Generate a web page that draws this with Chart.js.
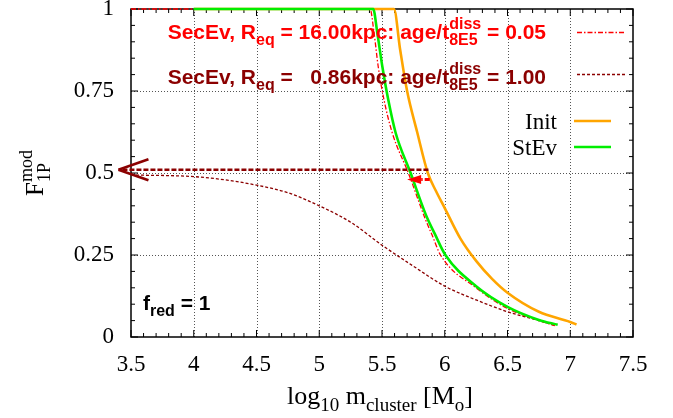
<!DOCTYPE html>
<html>
<head>
<meta charset="utf-8">
<script src="https://cdn.jsdelivr.net/npm/chart.js@4/dist/chart.umd.min.js"></script>
<style>
  body { margin: 0; background: #fff; }
  canvas { display: block; }
</style>
</head>
<body>
<canvas id="chartF1P" width="673" height="418"></canvas>
<script>
// F1P fraction vs log10 cluster mass
const initX = [4.0, 5.595, 5.645, 5.70, 5.78, 5.865, 5.93, 6.0, 6.125, 6.25, 6.375, 6.5, 6.75, 7.0, 7.05];
const initY = [1.0, 1.0, 0.875, 0.75, 0.625, 0.5, 0.445, 0.393, 0.30, 0.232, 0.178, 0.135, 0.077, 0.046, 0.038];

const stevX = [4.0, 5.43, 5.463, 5.503, 5.55, 5.609, 5.728, 5.85, 5.92, 6.005, 6.25, 6.5, 6.75, 6.90];
const stevY = [1.0, 1.0, 0.926, 0.824, 0.723, 0.622, 0.5, 0.372, 0.315, 0.25, 0.155, 0.092, 0.052, 0.037];

const sec16X = [3.5, 5.405, 5.437, 5.47, 5.516, 5.582, 5.71, 5.85, 5.90, 5.966, 6.25, 6.5, 6.75, 6.878];
const sec16Y = [1.0, 1.0, 0.926, 0.824, 0.723, 0.622, 0.5, 0.355, 0.31, 0.25, 0.15, 0.087, 0.05, 0.035];

const sec086X = [3.5, 4.0, 4.25, 4.5, 4.75, 5.0, 5.25, 5.5, 5.75, 6.0, 6.25, 6.5, 6.75, 6.88];
const sec086Y = [0.494, 0.489, 0.479, 0.463, 0.44, 0.40, 0.35, 0.28, 0.216, 0.155, 0.113, 0.077, 0.05, 0.035];

// arrows: [tail, tip]
const arrowDarkX = [5.87, 3.40];
const arrowDarkY = [0.51, 0.51];
const arrowRedX = [5.88, 5.70];
const arrowRedY = [0.48, 0.48];

const serif = '"Liberation Serif", "Times New Roman", serif';
const sans = '"Liberation Sans", Arial, sans-serif';

function pts(xs, ys) {
  return xs.map((x, i) => ({ x: x, y: ys[i] }));
}

// rich text: strings, {sub}, {sup}, {sup, sub}
function segWidth(ctx, s, big, small) {
  if (typeof s === 'string') {
    ctx.font = big;
    return ctx.measureText(s).width;
  }
  ctx.font = small;
  const a = s.sup ? ctx.measureText(s.sup).width : 0;
  const b = s.sub ? ctx.measureText(s.sub).width : 0;
  return Math.max(a, b);
}

function drawRich(ctx, segs, x, y, align, f) {
  let w = 0;
  segs.forEach(s => { w += segWidth(ctx, s, f.big, f.small); });
  let cx = x;
  if (align === 'right') cx = x - w;
  if (align === 'center') cx = x - w / 2;
  ctx.textAlign = 'left';
  ctx.textBaseline = 'alphabetic';
  ctx.fillStyle = f.color;
  segs.forEach(s => {
    const sw = segWidth(ctx, s, f.big, f.small);
    if (typeof s === 'string') {
      ctx.font = f.big;
      ctx.fillText(s, cx, y);
    } else {
      ctx.font = f.small;
      if (s.sup) ctx.fillText(s.sup, cx, y - f.supDy);
      if (s.sub) ctx.fillText(s.sub, cx, y + f.subDy);
    }
    cx += sw;
  });
}

function line(ctx, x0, y0, x1, y1, color, width, dash) {
  ctx.save();
  ctx.strokeStyle = color;
  ctx.lineWidth = width;
  ctx.setLineDash(dash || []);
  ctx.beginPath();
  ctx.moveTo(x0, y0);
  ctx.lineTo(x1, y1);
  ctx.stroke();
  ctx.restore();
}

const framePlugin = {
  id: 'frame',
  beforeDatasetsDraw(chart) {
    const ctx = chart.ctx;
    const a = chart.chartArea;
    const xs = chart.scales.x, ys = chart.scales.y;
    ctx.save();
    // dotted grid
    xs.ticks.forEach(t => {
      if (t.value <= xs.min || t.value >= xs.max) return;
      const px = Math.round(xs.getPixelForValue(t.value)) + 0.5;
      line(ctx, px, a.top, px, a.bottom, '#555', 1, [1, 2]);
    });
    ys.ticks.forEach(t => {
      if (t.value <= ys.min || t.value >= ys.max) return;
      const py = Math.round(ys.getPixelForValue(t.value)) + 0.5;
      line(ctx, a.left, py, a.right, py, '#555', 1, [1, 2]);
    });
    // minor and major tick marks on all four sides
    for (let v = xs.min; v <= xs.max + 1e-9; v += 0.1) {
      const px = xs.getPixelForValue(v);
      const major = Math.abs(v * 2 - Math.round(v * 2)) < 1e-6;
      const len = major ? 7 : 4;
      line(ctx, px, a.bottom, px, a.bottom - len, '#000', 1);
      line(ctx, px, a.top, px, a.top + len, '#000', 1);
    }
    for (let v = ys.min; v <= ys.max + 1e-9; v += 0.05) {
      const py = ys.getPixelForValue(v);
      const major = Math.abs(v * 4 - Math.round(v * 4)) < 1e-6;
      const len = major ? 7 : 4;
      line(ctx, a.left, py, a.left + len, py, '#000', 1);
      line(ctx, a.right, py, a.right - len, py, '#000', 1);
    }
    ctx.strokeStyle = '#000';
    ctx.lineWidth = 1.5;
    ctx.setLineDash([]);
    ctx.strokeRect(a.left, a.top, a.right - a.left, a.bottom - a.top);
    ctx.restore();
  },
  afterDatasetsDraw(chart) {
    const ctx = chart.ctx;
    const a = chart.chartArea;
    const xs = chart.scales.x, ys = chart.scales.y;
    ctx.save();

    // dark red open-headed arrow
    let x0 = xs.getPixelForValue(arrowDarkX[0]), y0 = ys.getPixelForValue(arrowDarkY[0]);
    let x1 = xs.getPixelForValue(arrowDarkX[1]), y1 = ys.getPixelForValue(arrowDarkY[1]);
    line(ctx, x0, y0, x1 + 2, y1, '#8b0000', 2.6, [5, 2]);
    line(ctx, x1, y1, x1 + 30, y1 - 10.5, '#8b0000', 2.6);
    line(ctx, x1, y1, x1 + 30, y1 + 10.5, '#8b0000', 2.6);

    // red filled-head arrow
    x0 = xs.getPixelForValue(arrowRedX[0]); y0 = ys.getPixelForValue(arrowRedY[0]);
    x1 = xs.getPixelForValue(arrowRedX[1]); y1 = ys.getPixelForValue(arrowRedY[1]);
    line(ctx, x0, y0, x1 + 13, y1, '#ff0000', 3, [5, 2, 1.5, 2]);
    ctx.fillStyle = '#ff0000';
    ctx.beginPath();
    ctx.moveTo(x1, y1);
    ctx.lineTo(x1 + 14, y1 - 4.5);
    ctx.lineTo(x1 + 14, y1 + 4.5);
    ctx.closePath();
    ctx.fill();

    // SecEv keys (top)
    const keyFont = { big: 'bold 21px ' + sans, small: 'bold 16px ' + sans, subDy: 6, supDy: 10 };
    const kx = a.left + 415;
    drawRich(ctx, ['SecEv, R', { sub: 'eq' }, ' = 16.00kpc: age/t', { sup: 'diss', sub: '8E5' }, ' = 0.05'],
      kx, a.top + 30, 'right', Object.assign({ color: '#ff0000' }, keyFont));
    line(ctx, a.left + 446, a.top + 23.5, a.left + 494, a.top + 23.5, '#ff0000', 1.3, [5, 2, 1.5, 2]);
    drawRich(ctx, ['SecEv, R', { sub: 'eq' }, ' =   0.86kpc: age/t', { sup: 'diss', sub: '8E5' }, ' = 1.00'],
      kx, a.top + 75, 'right', Object.assign({ color: '#8b0000' }, keyFont));
    line(ctx, a.left + 446, a.top + 65.5, a.left + 494, a.top + 65.5, '#8b0000', 1.3, [3, 2]);

    // Init / StEv keys
    ctx.font = '23px ' + serif;
    ctx.fillStyle = '#000';
    ctx.textAlign = 'right';
    ctx.textBaseline = 'alphabetic';
    ctx.fillText('Init', a.left + 426, a.top + 120);
    ctx.fillText('StEv', a.left + 426, a.top + 146);
    line(ctx, a.left + 443, a.top + 112, a.left + 480, a.top + 112, '#ffa500', 2.6);
    line(ctx, a.left + 443, a.top + 138, a.left + 480, a.top + 138, '#00ee00', 2.6);

    // f_red label
    drawRich(ctx, ['f', { sub: 'red' }, ' = 1'], a.left + 12, a.top + 301, 'left',
      { big: 'bold 21px ' + sans, small: 'bold 16px ' + sans, subDy: 6, supDy: 10, color: '#000' });

    // axis titles
    const tf = { big: '26px ' + serif, small: '19px ' + serif, subDy: 7, supDy: 11, color: '#000' };
    drawRich(ctx, ['log', { sub: '10' }, ' m', { sub: 'cluster' }, ' [M', { sub: 'o' }, ']'],
      (a.left + a.right) / 2 - 2, 404, 'center', tf);
    ctx.translate(43, (a.top + a.bottom) / 2);
    ctx.rotate(-Math.PI / 2);
    drawRich(ctx, ['F', { sup: 'mod', sub: '1P' }], 0, 0, 'center',
      { big: '25px ' + serif, small: '18px ' + serif, subDy: 7, supDy: 11, color: '#000' });
    ctx.restore();
  }
};

new Chart(document.getElementById('chartF1P'), {
  type: 'line',
  data: {
    datasets: [{
      label: 'StEv',
      data: pts(stevX, stevY),
      borderColor: '#00ee00',
      borderWidth: 2.6,
      order: 0
    }, {
      label: 'Init',
      data: pts(initX, initY),
      borderColor: '#ffa500',
      borderWidth: 2.6,
      order: 1
    }, {
      label: 'SecEv, Req = 16.00kpc: age/t8E5diss = 0.05',
      data: pts(sec16X, sec16Y),
      borderColor: '#ff0000',
      borderWidth: 1.3,
      borderDash: [5, 2, 1.5, 2],
      order: 2
    }, {
      label: 'SecEv, Req = 0.86kpc: age/t8E5diss = 1.00',
      data: pts(sec086X, sec086Y),
      borderColor: '#8b0000',
      borderWidth: 1.3,
      borderDash: [3, 2],
      order: 3
    }]
  },
  options: {
    responsive: false,
    animation: false,
    devicePixelRatio: 1,
    clip: false,
    elements: {
      point: { radius: 0 },
      line: { cubicInterpolationMode: 'monotone', fill: false }
    },
    layout: { padding: { left: 0, right: 40, top: 9, bottom: 0 } },
    plugins: { legend: { display: false }, tooltip: { enabled: false } },
    scales: {
      x: {
        type: 'linear',
        min: 3.5,
        max: 7.5,
        grid: { display: false, drawTicks: false },
        border: { display: false },
        ticks: {
          stepSize: 0.5,
          padding: 14,
          color: '#000',
          font: { family: serif, size: 23 },
          maxRotation: 0,
          callback: v => String(v)
        },
        afterFit: s => { s.height = 81; s.paddingLeft = 0; s.paddingRight = 0; }
      },
      y: {
        min: 0,
        max: 1,
        grid: { display: false, drawTicks: false },
        border: { display: false },
        ticks: {
          stepSize: 0.25,
          padding: 17,
          color: '#000',
          font: { family: serif, size: 23 },
          callback: v => String(v)
        },
        afterFit: s => { s.width = 131; s.paddingTop = 0; s.paddingBottom = 0; }
      }
    }
  },
  plugins: [framePlugin]
});
</script>
</body>
</html>
